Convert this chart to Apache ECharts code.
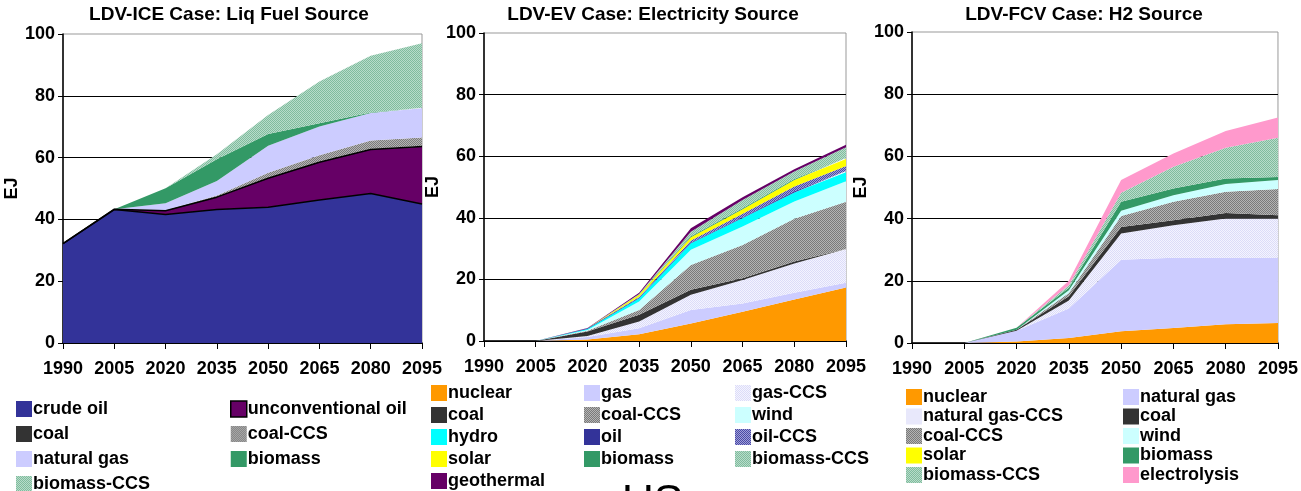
<!DOCTYPE html>
<html>
<head>
<meta charset="utf-8">
<script src="https://cdn.jsdelivr.net/npm/echarts@6/dist/echarts.min.js"></script>
<style>
  html, body { margin: 0; padding: 0; background: #fff; }
  #chart { width: 1301px; height: 491px; }
</style>
</head>
<body>
<div id="chart"></div>
<script>
const years = ['1990', '2005', '2020', '2035', '2050', '2065', '2080', '2095']

// LDV-ICE case: liquid fuel source (EJ)
const iceCrudeOil = [32.2, 43.2, 41.6, 43.2, 43.9, 46.3, 48.4, 45.0]
const iceUnconvOil = [0, 0.1, 1.2, 4.0, 9.4, 12.2, 14.2, 18.6]
const iceCoal = [0, 0, 0.2, 0.2, 0.2, 0.2, 0.2, 0.2]
const iceCoalCcs = [0, 0, 0, 0.3, 1.6, 2.1, 2.7, 2.7]
const iceNaturalGas = [0, 0, 2.2, 4.7, 8.7, 9.3, 8.9, 9.5]
const iceBiomass = [0, 0, 4.9, 7.1, 3.8, 1.0, 0.2, 0.1]
const iceBiomassCcs = [0, 0, 0, 1.6, 6.2, 13.5, 18.4, 20.9]

// LDV-EV case: electricity source (EJ)
const evNuclear = [0, 0, 0.5, 2.2, 5.7, 9.5, 13.5, 17.4]
const evGas = [0, 0, 0.8, 1.9, 4.4, 2.7, 2.2, 1.5]
const evGasCcs = [0, 0, 0.3, 2.2, 4.9, 7.6, 9.5, 10.8]
const evCoal = [0, 0, 1.5, 2.2, 1.6, 0.6, 0.6, 0.2]
const evCoalCcs = [0, 0, 0.2, 1.6, 8.1, 10.8, 13.9, 15.3]
const evWind = [0, 0, 0.3, 2.7, 4.9, 6.0, 5.6, 6.7]
const evHydro = [0, 0, 0.3, 1.1, 2.1, 2.7, 2.9, 2.9]
const evOil = [0, 0, 0.2, 0.2, 0.3, 0.3, 0.4, 0.4]
const evOilCcs = [0, 0, 0, 0.3, 0.6, 1.1, 1.6, 1.6]
const evSolar = [0, 0, 0, 0.6, 1.1, 1.5, 2.1, 2.3]
const evBiomass = [0, 0, 0, 0.1, 0.3, 0.3, 0.3, 0.3]
const evBiomassCcs = [0, 0, 0, 0.2, 1.5, 2.7, 2.4, 3.5]
const evGeothermal = [0, 0, 0.1, 0.4, 1.1, 0.9, 0.8, 0.8]

// LDV-FCV case: H2 source (EJ)
const fcvNuclear = [0, 0, 0.5, 1.6, 3.8, 4.8, 6.0, 6.4]
const fcvNaturalGas = [0, 0, 3.4, 9.5, 23.0, 22.6, 21.4, 21.0]
const fcvNaturalGasCcs = [0, 0, 0, 2.6, 8.4, 10.5, 12.6, 12.6]
const fcvCoal = [0, 0, 0.4, 1.3, 2.1, 1.6, 1.8, 1.1]
const fcvCoalCcs = [0, 0, 0, 1.1, 3.5, 5.9, 6.8, 8.4]
const fcvWind = [0, 0, 0, 0.9, 1.7, 2.1, 2.5, 2.9]
const fcvSolar = [0, 0, 0, 0, 0, 0, 0, 0]
const fcvBiomass = [0, 0, 0.6, 0.8, 2.9, 2.2, 1.8, 1.0]
const fcvBiomassCcs = [0, 0, 0, 0.8, 2.9, 7.0, 9.9, 12.6]
const fcvElectrolysis = [0, 0, 0, 1.4, 4.1, 4.2, 5.4, 6.5]

const FONT = "'Liberation Sans', Arial, sans-serif"

// small dithered fill to mimic the excel pattern fills
function hatch (fg, bg) {
  const c = document.createElement('canvas')
  c.width = 2
  c.height = 2
  const g = c.getContext('2d')
  g.fillStyle = bg
  g.fillRect(0, 0, 2, 2)
  g.fillStyle = fg
  g.fillRect(0, 0, 1, 1)
  g.fillRect(1, 1, 1, 1)
  return { image: c, repeat: 'repeat' }
}

const colors = {
  nuclear: '#FF9900',
  gas: '#CCCCFF',
  gasCcs: hatch('#DCDCF8', '#F4F4FF'),
  coal: '#333333',
  coalCcs: hatch('#7A7A7A', '#B4B4B4'),
  wind: '#CCFFFF',
  hydro: '#00FFFF',
  oil: '#333399',
  oilCcs: hatch('#4A4AA6', '#A0A0D8'),
  solar: '#FFFF00',
  biomass: '#339966',
  biomassCcs: hatch('#80BC9E', '#B8DCCA'),
  geothermal: '#660066',
  electrolysis: '#FF99CC'
}

const panels = [
  { left: 63, width: 359, top: 34, height: 309, title: 'LDV-ICE Case: Liq Fuel Source', titleX: 229, nameGap: 35 },
  { left: 484, width: 362, top: 33, height: 308, title: 'LDV-EV Case: Electricity Source', titleX: 653, nameGap: 36 },
  { left: 912, width: 366, top: 32, height: 311, title: 'LDV-FCV Case: H2 Source', titleX: 1084, nameGap: 32 }
]

const seriesDefs = [
  // panel, name, data, colour, outline
  [0, 'crude oil', iceCrudeOil, colors.oil, '#000'],
  [0, 'unconventional oil', iceUnconvOil, colors.geothermal, '#000'],
  [0, 'coal', iceCoal, colors.coal, null],
  [0, 'coal-CCS', iceCoalCcs, colors.coalCcs, null],
  [0, 'natural gas', iceNaturalGas, colors.gas, null],
  [0, 'biomass', iceBiomass, colors.biomass, null],
  [0, 'biomass-CCS', iceBiomassCcs, colors.biomassCcs, null],

  [1, 'nuclear', evNuclear, colors.nuclear, null],
  [1, 'gas', evGas, colors.gas, null],
  [1, 'gas-CCS', evGasCcs, colors.gasCcs, null],
  [1, 'coal', evCoal, colors.coal, null],
  [1, 'coal-CCS', evCoalCcs, colors.coalCcs, null],
  [1, 'wind', evWind, colors.wind, null],
  [1, 'hydro', evHydro, colors.hydro, null],
  [1, 'oil', evOil, colors.oil, null],
  [1, 'oil-CCS', evOilCcs, colors.oilCcs, null],
  [1, 'solar', evSolar, colors.solar, null],
  [1, 'biomass', evBiomass, colors.biomass, null],
  [1, 'biomass-CCS', evBiomassCcs, colors.biomassCcs, null],
  [1, 'geothermal', evGeothermal, colors.geothermal, null],

  [2, 'nuclear', fcvNuclear, colors.nuclear, null],
  [2, 'natural gas', fcvNaturalGas, colors.gas, null],
  [2, 'natural gas-CCS', fcvNaturalGasCcs, colors.gasCcs, null],
  [2, 'coal', fcvCoal, colors.coal, null],
  [2, 'coal-CCS', fcvCoalCcs, colors.coalCcs, null],
  [2, 'wind', fcvWind, colors.wind, null],
  [2, 'solar', fcvSolar, colors.solar, null],
  [2, 'biomass', fcvBiomass, colors.biomass, null],
  [2, 'biomass-CCS', fcvBiomassCcs, colors.biomassCcs, null],
  [2, 'electrolysis', fcvElectrolysis, colors.electrolysis, null]
]

const series = seriesDefs.map(([p, name, data, color, outline]) => ({
  type: 'line',
  name,
  data,
  xAxisIndex: p,
  yAxisIndex: p,
  stack: 'p' + p,
  showSymbol: false,
  symbol: 'none',
  silent: true,
  itemStyle: { color },
  lineStyle: outline ? { color: outline, width: 1.5 } : { width: 0, opacity: 0 },
  areaStyle: { color, opacity: 1 }
}))

// legend columns: [panel, left, top, gap, names]
const legendCols = [
  [0, 16, 400, 7, ['crude oil', 'coal', 'natural gas', 'biomass-CCS']],
  [0, 230, 400, 7, ['unconventional oil', 'coal-CCS', 'biomass']],
  [1, 431, 384, 4, ['nuclear', 'coal', 'hydro', 'solar', 'geothermal']],
  [1, 584, 384, 4, ['gas', 'coal-CCS', 'oil', 'biomass']],
  [1, 735, 384, 4, ['gas-CCS', 'wind', 'oil-CCS', 'biomass-CCS']],
  [2, 906, 388, 1.5, ['nuclear', 'natural gas-CCS', 'coal-CCS', 'solar', 'biomass-CCS']],
  [2, 1123, 388, 1.5, ['natural gas', 'coal', 'wind', 'biomass', 'electrolysis']]
]

function legendColor (p, name) {
  const d = seriesDefs.find(s => s[0] === p && s[1] === name)
  return d[3]
}

const legend = legendCols.map(([p, left, top, gap, names]) => ({
  orient: 'vertical',
  left,
  top,
  height: 200,
  itemGap: gap,
  itemWidth: 16,
  itemHeight: 16,
  icon: 'rect',
  selectedMode: false,
  padding: 0,
  textStyle: { fontFamily: FONT, fontWeight: 'bold', fontSize: 18, color: '#000', lineHeight: 16, padding: [0, 0, 0, -4] },
  data: names.map(n => ({
    name: n,
    itemStyle: n === 'unconventional oil'
      ? { color: legendColor(p, n), borderColor: '#000', borderWidth: 1.5 }
      : { color: legendColor(p, n), borderWidth: 0 }
  }))
}))

const chart = echarts.init(document.getElementById('chart'), null, { renderer: 'canvas' })
chart.setOption({
  animation: false,
  backgroundColor: '#fff',
  title: panels.map(pn => ({
    text: pn.title,
    left: pn.titleX,
    top: 5,
    textAlign: 'center',
    padding: 0,
    textStyle: { fontFamily: FONT, fontWeight: 'bold', fontSize: 19, color: '#000' }
  })),
  grid: panels.map(pn => ({
    left: pn.left,
    top: pn.top,
    width: pn.width,
    height: pn.height,
    show: true,
    borderColor: '#999',
    borderWidth: 1,
    backgroundColor: 'transparent'
  })),
  xAxis: panels.map((pn, i) => ({
    type: 'category',
    gridIndex: i,
    data: years,
    boundaryGap: false,
    axisLine: { lineStyle: { color: '#000', width: 1.5 } },
    axisTick: { show: true, length: 6, lineStyle: { color: '#000' } },
    axisLabel: { fontFamily: FONT, fontWeight: 'bold', fontSize: 18, color: '#000', margin: 17, interval: 0 },
    splitLine: { show: false }
  })),
  yAxis: panels.map((pn, i) => ({
    type: 'value',
    gridIndex: i,
    min: 0,
    max: 100,
    interval: 20,
    name: 'EJ',
    nameLocation: 'middle',
    nameGap: pn.nameGap,
    nameRotate: 90,
    nameTextStyle: { fontFamily: FONT, fontWeight: 'bold', fontSize: 18, color: '#000' },
    axisLine: { show: true, lineStyle: { color: '#000', width: 1.5 } },
    axisTick: { show: true, length: 5, lineStyle: { color: '#000' } },
    axisLabel: { fontFamily: FONT, fontWeight: 'bold', fontSize: 18, color: '#000', margin: 8 },
    splitLine: { show: true, showMaxLine: false, lineStyle: { color: '#000', width: 1 } }
  })),
  legend,
  graphic: [{
    type: 'text',
    left: 622,
    top: 482,
    style: { text: 'US', fontFamily: FONT, fontSize: 44, fill: '#000' }
  }],
  series
})
</script>
</body>
</html>
